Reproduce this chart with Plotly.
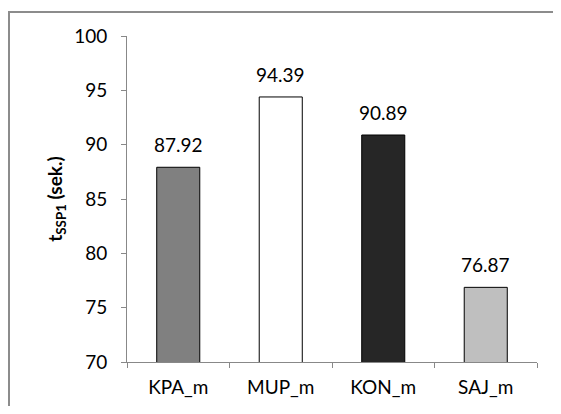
import plotly.graph_objects as go

categories = ["KPA_m", "MUP_m", "KON_m", "SAJ_m"]
values = [87.92, 94.39, 90.89, 76.87]
labels = ["87.92", "94.39", "90.89", "76.87"]
colors = ["#808080", "#ffffff", "#262626", "#bfbfbf"]
y_ticks = [70, 75, 80, 85, 90, 95, 100]

# page body has an 8px default margin; keep the figure inside the window
W, H = 545, 398
L, R, T, B = 119, 16, 28, 44
pw, ph = W - L - R, H - T - B

def px(x):
    return (x - L) / pw

def py(y):
    return (H - B - y) / ph

FONT = "Lato"

fig = go.Figure(go.Bar(
    x=categories, y=values,
    marker=dict(color=colors, line=dict(color="#000000", width=1)),
    cliponaxis=False,
))

for c, v, t in zip(categories, values, labels):
    fig.add_annotation(x=c, y=v, text=t, showarrow=False, yanchor="bottom",
                       yshift=9, font=dict(family=FONT, size=19, color="#000000"))

fig.update_layout(
    width=W, height=H,
    margin=dict(l=L, r=R, t=T, b=B, autoexpand=False),
    paper_bgcolor="#ffffff", plot_bgcolor="#ffffff",
    bargap=0.58, showlegend=False,
    font=dict(family=FONT, size=19, color="#000000"),
    shapes=[dict(type="rect", xref="paper", yref="paper",
                 x0=px(1), x1=px(W + 20), y0=py(4), y1=py(H + 20),
                 line=dict(color="#8c8c8c", width=2), layer="below")],
)
fig.update_xaxes(
    showline=True, linecolor="#888888", linewidth=1,
    ticks="outside", ticklen=5, tickcolor="#888888",
    tickson="boundaries", showgrid=False, ticklabelstandoff=8,
    tickfont=dict(family=FONT, size=19), automargin=False,
)
fig.update_yaxes(
    range=[70, 100], tickvals=y_ticks,
    showline=True, linecolor="#888888", linewidth=1,
    ticks="outside", ticklen=5, tickcolor="#888888",
    showgrid=False, zeroline=False, ticklabelstandoff=10,
    tickfont=dict(family=FONT, size=19), automargin=False,
    title=dict(text="<b>t<sub>SSP1</sub> (sek.)</b>", font=dict(family=FONT, size=19), standoff=6),
)

fig.write_html("out.html", config={"displayModeBar": False})
